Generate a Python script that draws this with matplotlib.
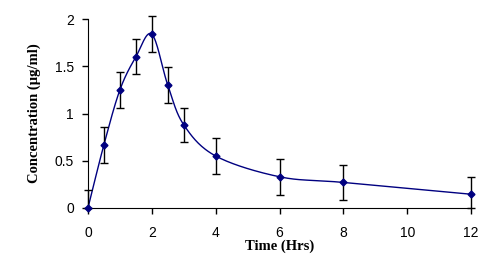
import numpy as np
import matplotlib.pyplot as plt

tiempo = [0, 0.5, 1, 1.5, 2, 2.5, 3, 4, 6, 8, 12]
conc = [0.0, 0.67, 1.25, 1.60, 1.84, 1.30, 0.88, 0.55, 0.33, 0.27, 0.145]
err = [0.19, 0.19, 0.19, 0.185, 0.19, 0.19, 0.18, 0.19, 0.19, 0.19, 0.18]


def suavizar(x, y, n=30):
    # curva tipo Catmull-Rom como la línea suavizada de Excel
    x = np.asarray(x, float)
    y = np.asarray(y, float)
    px = np.concatenate([[2 * x[0] - x[1]], x, [2 * x[-1] - x[-2]]])
    py = np.concatenate([[2 * y[0] - y[1]], y, [2 * y[-1] - y[-2]]])
    xs, ys = [], []
    t = np.linspace(0, 1, n)
    for i in range(1, len(px) - 2):
        for p, out in ((px, xs), (py, ys)):
            p0, p1, p2, p3 = p[i - 1], p[i], p[i + 1], p[i + 2]
            out.extend(0.5 * (2 * p1 + (-p0 + p2) * t
                              + (2 * p0 - 5 * p1 + 4 * p2 - p3) * t ** 2
                              + (-p0 + 3 * p1 - 3 * p2 + p3) * t ** 3))
    return np.array(xs), np.array(ys)


fig = plt.figure(figsize=(4.97, 2.69), dpi=100)
ax = fig.add_axes([0.177, 0.227, 0.771, 0.702])

# la barra de error no baja del eje (Excel la corta en 0)
err_inf = np.minimum(err, conc)
sx, sy = suavizar(tiempo, conc)
ax.plot(sx, sy, color="#000080", lw=1, clip_on=False)
ax.errorbar(tiempo, conc, yerr=[err_inf, err], fmt="none", ecolor="black",
            elinewidth=1, capsize=3, capthick=1, clip_on=False)
ax.plot(tiempo, conc, "D", color="#000080", ms=3.5, clip_on=False, zorder=5)

ax.set_xlim(0, 12)
ax.set_ylim(0, 2)
ax.set_xticks(range(0, 13, 2))
ax.set_yticks([0, 0.5, 1, 1.5, 2])
ax.set_yticklabels(["0", "0.5", "1", "1.5", "2"])
for s in ["top", "right"]:
    ax.spines[s].set_visible(False)
ax.tick_params(labelsize=10, length=4, width=1)
ax.tick_params(axis="x", pad=9)
ax.tick_params(axis="y", pad=6)
for lab in ax.get_xticklabels() + ax.get_yticklabels():
    lab.set_family("Liberation Sans")

ax.set_xlabel("Time (Hrs)", fontfamily="Liberation Serif", fontweight="bold",
              fontsize=10.5, labelpad=0)
ax.set_ylabel("Concentration (µg/ml)", fontfamily="Liberation Serif",
              fontweight="bold", fontsize=10.5, labelpad=10)

fig.savefig("out.png", dpi=100)
